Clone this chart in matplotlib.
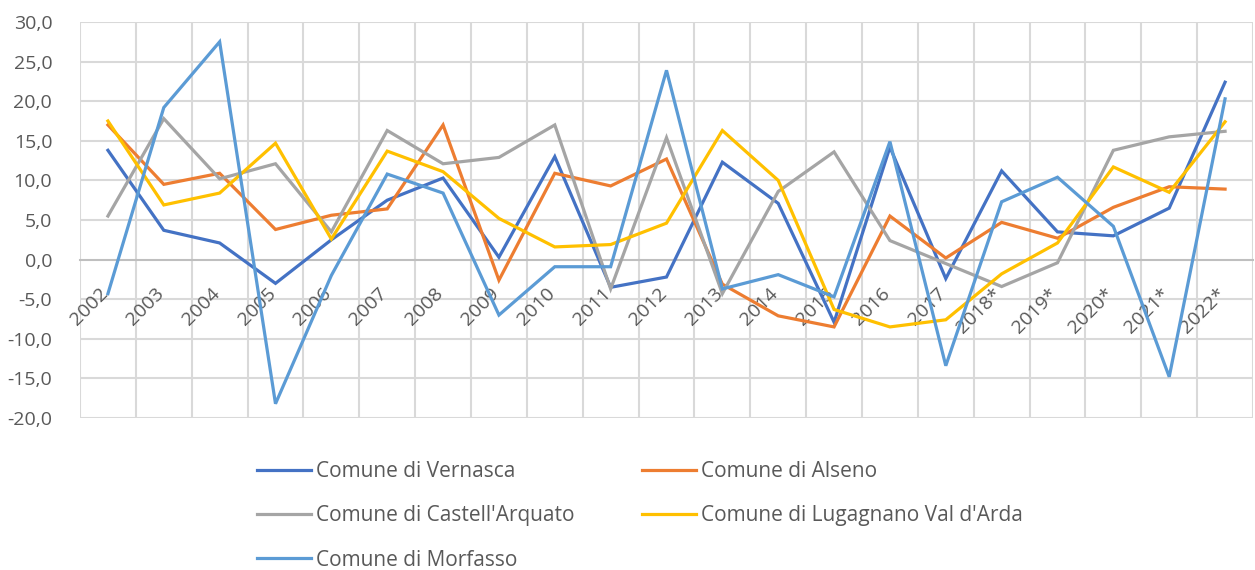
import matplotlib
matplotlib.use("Agg")
import matplotlib.pyplot as plt
from matplotlib.ticker import FuncFormatter
import matplotlib.transforms as mtransforms

years = ["2002", "2003", "2004", "2005", "2006", "2007", "2008", "2009", "2010", "2011",
         "2012", "2013", "2014", "2015", "2016", "2017", "2018*", "2019*", "2020*", "2021*", "2022*"]

vernasca = [13.8, 3.7, 2.1, -3.0, 2.5, 7.5, 10.3, 0.3, 13.0, -3.5,
            -2.2, 12.3, 7.1, -7.9, 14.2, -2.4, 11.2, 3.5, 3.0, 6.5, 22.4]
alseno = [17.0, 9.5, 10.9, 3.8, 5.6, 6.4, 17.0, -2.6, 10.9, 9.3,
          12.7, -3.1, -7.1, -8.5, 5.5, 0.2, 4.7, 2.7, 6.6, 9.2, 8.9]
castell_arquato = [5.5, 17.8, 10.2, 12.1, 3.5, 16.3, 12.1, 12.9, 17.0, -3.7,
                   15.4, -4.3, 8.6, 13.6, 2.4, -0.5, -3.4, -0.4, 13.8, 15.5, 16.2]
lugagnano = [17.5, 6.9, 8.4, 14.7, 2.6, 13.7, 11.1, 5.2, 1.6, 1.9,
             4.6, 16.3, 10.0, -6.3, -8.5, -7.6, -1.8, 2.1, 11.7, 8.5, 17.4]
morfasso = [-4.3, 19.2, 27.5, -18.2, -2.0, 10.8, 8.4, -7.0, -0.9, -0.9,
            23.9, -3.7, -1.9, -4.7, 14.9, -13.4, 7.3, 10.4, 4.2, -14.8, 20.3]

series = [
    ("Comune di Vernasca", vernasca, "#4472C4"),
    ("Comune di Alseno", alseno, "#ED7D31"),
    ("Comune di Castell'Arquato", castell_arquato, "#A5A5A5"),
    ("Comune di Lugagnano Val d'Arda", lugagnano, "#FFC000"),
    ("Comune di Morfasso", morfasso, "#5B9BD5"),
]

plt.rcParams["font.family"] = ["Open Sans", "DejaVu Sans"]

fig = plt.figure(figsize=(12.55, 5.7), dpi=100)
ax = fig.add_axes([80 / 1255, 1 - 418 / 570, (1253 - 80) / 1255, (418 - 22) / 570])

x = list(range(len(years)))
lines = []
for name, vals, col in series:
    ln, = ax.plot(x, vals, color=col, lw=2.3, label=name, solid_joinstyle="miter")
    lines.append(ln)

ax.set_xlim(-0.5, len(years) - 0.5)
ax.set_ylim(-20, 30)
ax.set_yticks(range(-20, 31, 5))
ax.yaxis.set_major_formatter(FuncFormatter(lambda v, p: f"{v:.1f}".replace(".", ",")))

# grid: horizontal every 5, vertical at category boundaries
for yv in range(-20, 31, 5):
    if yv != 0:
        ax.axhline(yv, color="#D9D9D9", lw=1.5, zorder=0)
for xb in range(len(years) + 1):
    ax.axvline(xb - 0.5, color="#D9D9D9", lw=1.5, zorder=0)

for s in ["top", "right", "left"]:
    ax.spines[s].set_visible(False)
ax.spines["bottom"].set_position(("data", 0))
ax.spines["bottom"].set_color("#BFBFBF")
ax.spines["bottom"].set_linewidth(1.5)
ax.spines["bottom"].set_zorder(0.5)

ax.set_xticks(x)
ax.set_xticklabels(years, rotation=45, ha="right", va="top", rotation_mode="anchor")
ax.tick_params(axis="both", length=0, labelsize=14, labelcolor="#595959")
ax.tick_params(axis="y", pad=20)
offset = mtransforms.ScaledTranslation(-9 / 100, -20 / 100, fig.dpi_scale_trans)
for lbl in ax.get_xticklabels():
    lbl.set_transform(lbl.get_transform() + offset)

# excel fills the legend row by row
order = [0, 2, 4, 1, 3]
fig.legend([lines[i] for i in order], [series[i][0] for i in order],
           loc="upper left", bbox_to_anchor=(257 / 1255, 1 - 461 / 570), ncol=2,
           frameon=False, fontsize=15, handlelength=2.6, handletextpad=0.25,
           columnspacing=3.2, labelspacing=1.12, borderpad=0, borderaxespad=0,
           labelcolor="#595959")

fig.savefig("out.png", dpi=100)
